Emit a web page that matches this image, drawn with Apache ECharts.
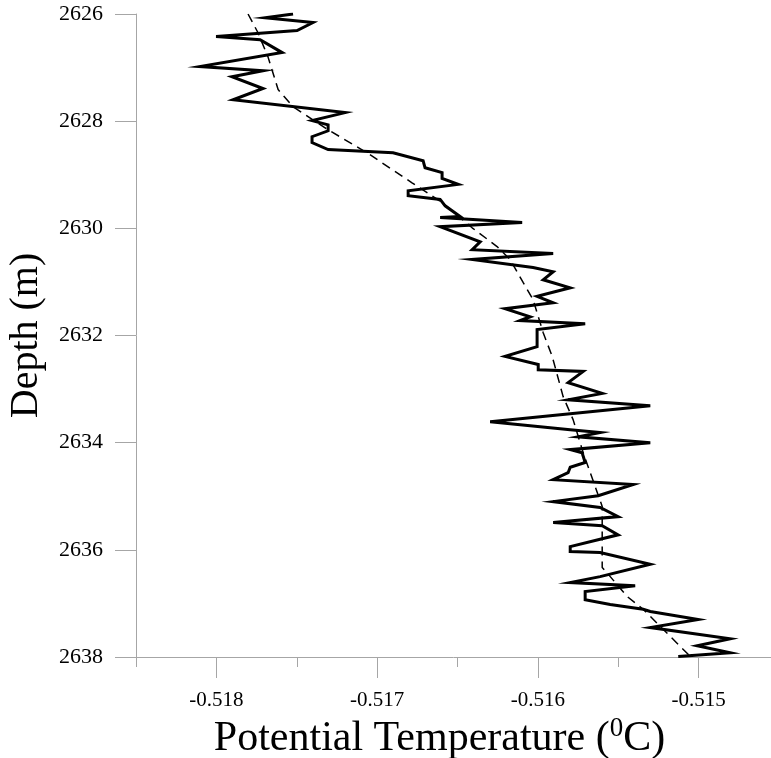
<!DOCTYPE html>
<html>
<head>
<meta charset="utf-8">
<title>Depth vs Potential Temperature</title>
<script src="https://cdn.jsdelivr.net/npm/echarts@6/dist/echarts.min.js"></script>
<style>
    html, body { margin: 0; padding: 0; background: #fff; }
    #main { width: 771px; height: 758px; }
</style>
</head>
<body>
<div id="main"></div>
<script>
    // measured profile (solid line)
    var obsTemp = [
        -0.517523, -0.517697, -0.517399, -0.517498, -0.518002, -0.517728, -0.517591, -0.518102,
        -0.517710, -0.517903, -0.517710, -0.517896, -0.517199, -0.517405, -0.517305, -0.517305,
        -0.517405, -0.517405, -0.517305, -0.516901, -0.516714, -0.516702, -0.516596, -0.516596,
        -0.516496, -0.516807, -0.516807, -0.516608, -0.516577, -0.516484, -0.516608, -0.516098,
        -0.516608, -0.516359, -0.516409, -0.515905, -0.516409, -0.516030, -0.515905, -0.515967,
        -0.515799, -0.516005, -0.515905, -0.516204, -0.516048, -0.516110, -0.515706, -0.516005,
        -0.516005, -0.516204, -0.515998, -0.515998, -0.515718, -0.515812, -0.515600, -0.515812,
        -0.515301, -0.516297, -0.515799, -0.515613, -0.515750, -0.515301, -0.515799, -0.515725,
        -0.515706, -0.515799, -0.515812, -0.515905, -0.515407, -0.515625, -0.515905, -0.515613,
        -0.515501, -0.515905, -0.515600, -0.515501, -0.515799, -0.515799, -0.515613, -0.515301,
        -0.515613, -0.515799, -0.515395, -0.515706, -0.515706, -0.515550, -0.515345, -0.515301,
        -0.515003, -0.515301, -0.514804, -0.515009, -0.514804, -0.515127
    ];
    var obsDepth = [
        2626.00, 2626.07, 2626.16, 2626.31, 2626.42, 2626.48, 2626.72, 2626.98,
        2627.06, 2627.17, 2627.39, 2627.60, 2627.84, 2627.99, 2628.07, 2628.18,
        2628.29, 2628.40, 2628.53, 2628.59, 2628.74, 2628.87, 2628.96, 2629.07,
        2629.18, 2629.30, 2629.39, 2629.46, 2629.58, 2629.78, 2629.80, 2629.89,
        2629.97, 2630.25, 2630.40, 2630.47, 2630.58, 2630.73, 2630.81, 2630.96,
        2631.11, 2631.27, 2631.39, 2631.50, 2631.65, 2631.72, 2631.78, 2631.89,
        2632.21, 2632.39, 2632.54, 2632.64, 2632.67, 2632.88, 2633.08, 2633.20,
        2633.31, 2633.61, 2633.76, 2633.81, 2633.89, 2634.00, 2634.13, 2634.19,
        2634.37, 2634.46, 2634.56, 2634.69, 2634.78, 2634.99, 2635.10, 2635.21,
        2635.38, 2635.49, 2635.55, 2635.72, 2635.94, 2636.03, 2636.05, 2636.27,
        2636.50, 2636.61, 2636.67, 2636.78, 2636.93, 2637.02, 2637.11, 2637.15,
        2637.30, 2637.45, 2637.66, 2637.79, 2637.92, 2637.99
    ];

    // smoothed profile (dashed line)
    var fitTemp = [
        -0.517803, -0.517741, -0.517679, -0.517616, -0.517523, -0.517305, -0.517063, -0.516783,
        -0.516596, -0.516409, -0.516254, -0.516173, -0.516092, -0.516030, -0.515967, -0.515911,
        -0.515843, -0.515781, -0.515718, -0.515600, -0.515600, -0.515550, -0.515445, -0.515345,
        -0.515052
    ];
    var fitDepth = [
        2626.00, 2626.35, 2626.80, 2627.41, 2627.73, 2628.16, 2628.59, 2629.15,
        2629.52, 2629.99, 2630.34, 2630.58, 2631.01, 2631.33, 2631.95, 2632.39,
        2633.14, 2633.57, 2634.19, 2635.19, 2636.33, 2636.50, 2636.87, 2637.11,
        2637.99
    ];

    // axis ticks
    var xMajorTicks = [-0.518, -0.517, -0.516, -0.515];
    var xMinorTicks = [-0.5185, -0.5175, -0.5165, -0.5155];
    var depthTicks = [2626, 2628, 2630, 2632, 2634, 2636, 2638];

    function zip(a, b) {
        var out = [];
        for (var i = 0; i < a.length; i++) {
            out.push([a[i], b[i]]);
        }
        return out;
    }

    var serif = 'Liberation Serif';
    var axisGray = '#a6a6a6';
    var xMin = -0.5185, xMax = -0.51455;

    var myChart = echarts.init(document.getElementById('main'));
    var option = {
        animation: false,
        backgroundColor: '#fff',
        grid: {
            left: 136,
            top: 14,
            right: 0,
            bottom: 101,
            containLabel: false,
            outerBoundsMode: 'none'
        },
        xAxis: [
            {
                type: 'value',
                min: xMin,
                max: xMax,
                position: 'bottom',
                axisLine: { show: true, onZero: false, lineStyle: { color: axisGray, width: 1 } },
                axisTick: {
                    show: true,
                    length: 21,
                    customValues: xMajorTicks,
                    lineStyle: { color: axisGray }
                },
                axisLabel: {
                    customValues: xMajorTicks,
                    margin: 33,
                    fontFamily: serif,
                    fontSize: 21,
                    color: '#000',
                    formatter: function (v) {
                        return v.toFixed(3);
                    }
                },
                splitLine: { show: false },
                name: '{a|Potential Temperature (}{s|0}{a|C)}',
                nameLocation: 'middle',
                nameGap: 54,
                nameTextStyle: {
                    padding: [0, 28, 0, 0],
                    rich: {
                        a: { fontFamily: serif, fontSize: 42, color: '#000', lineHeight: 46 },
                        s: { fontFamily: serif, fontSize: 27, color: '#000', verticalAlign: 'top', lineHeight: 46 }
                    }
                }
            },
            {
                // short ticks in between
                type: 'value',
                min: xMin,
                max: xMax,
                position: 'bottom',
                axisLine: { show: false },
                axisTick: {
                    show: true,
                    length: 10,
                    customValues: xMinorTicks,
                    lineStyle: { color: axisGray }
                },
                axisLabel: { show: false },
                splitLine: { show: false }
            }
        ],
        yAxis: {
            type: 'value',
            inverse: true,
            min: 2626,
            max: 2638,
            interval: 2,
            axisLine: { show: true, onZero: false, lineStyle: { color: axisGray, width: 1 } },
            axisTick: { show: true, length: 21, customValues: depthTicks, lineStyle: { color: axisGray } },
            axisLabel: {
                customValues: depthTicks,
                margin: 33,
                fontFamily: serif,
                fontSize: 22,
                color: '#000',
                formatter: function (v) {
                    return String(v);
                }
            },
            splitLine: { show: false },
            name: 'Depth (m)',
            nameLocation: 'middle',
            nameGap: 90,
            nameTextStyle: {
                fontFamily: serif,
                fontSize: 40,
                color: '#000'
            }
        },
        series: [
            {
                name: 'measured',
                type: 'line',
                xAxisIndex: 0,
                showSymbol: false,
                symbol: 'none',
                lineStyle: { color: '#000', width: 3, join: 'miter' },
                data: zip(obsTemp, obsDepth)
            },
            {
                name: 'fit',
                type: 'line',
                xAxisIndex: 0,
                showSymbol: false,
                symbol: 'none',
                lineStyle: { color: '#000', width: 1.5, type: [9, 6] },
                data: zip(fitTemp, fitDepth)
            }
        ]
    };
    myChart.setOption(option);
</script>
</body>
</html>
